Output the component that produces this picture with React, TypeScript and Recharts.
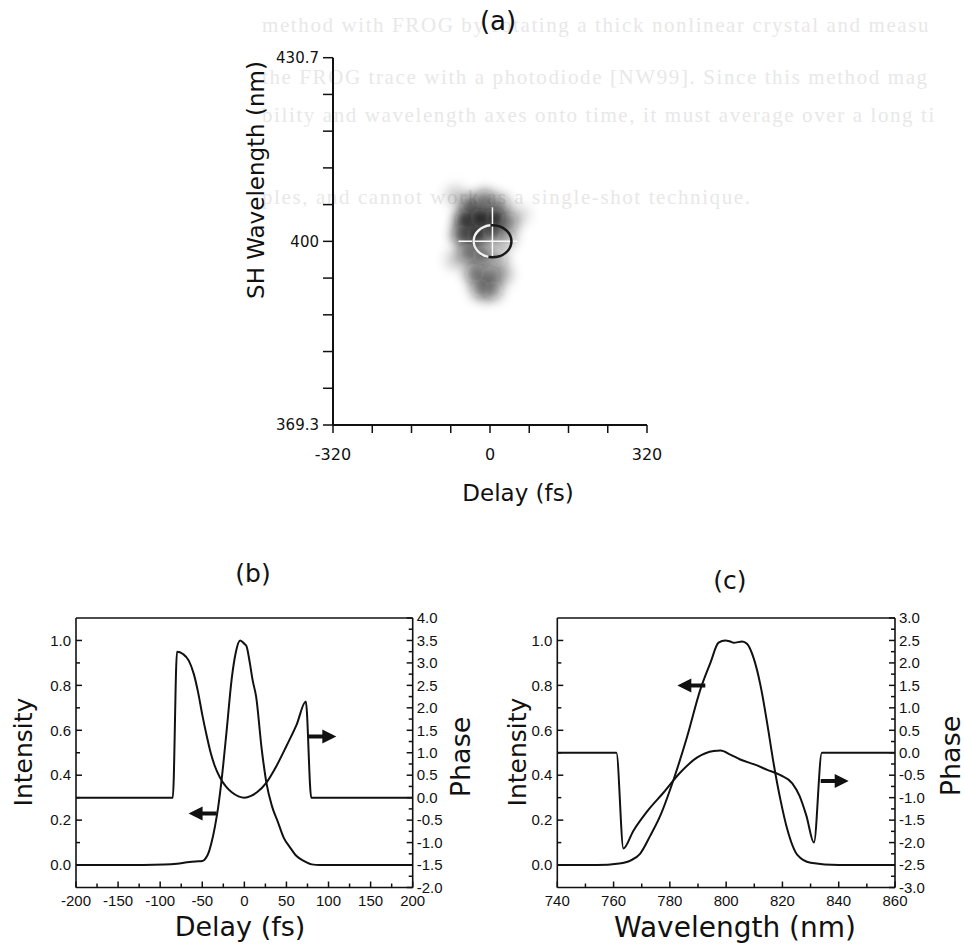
import React from "react";
import {
  ComposedChart,
  Line,
  Scatter,
  XAxis,
  YAxis,
  ReferenceDot,
} from "recharts";

// ---------- (a) FROG trace ----------
const frogDelayTicks = [-320, -240, -160, -80, 0, 80, 160, 240, 320];
const frogDelayLabels = [-320, 0, 320];
const frogWlTicks = [
  369.3, 375.44, 381.58, 387.72, 393.86, 400, 406.14, 412.28, 418.42, 424.56, 430.7,
];
const frogWlLabels = [369.3, 400, 430.7];
// rough intensity samples of the measured trace (delay fs, SH wavelength nm, level 0..1)
const frogSpots = [
  { delay: -41, wl: 406.1, level: 0.65 },
  { delay: -10, wl: 406.9, level: 0.6 },
  { delay: 20, wl: 406.1, level: 0.45 },
  { delay: -51, wl: 403.6, level: 0.9 },
  { delay: -20, wl: 403.9, level: 1.0 },
  { delay: 10, wl: 403.9, level: 0.9 },
  { delay: 37, wl: 403.2, level: 0.5 },
  { delay: -57, wl: 401.1, level: 0.75 },
  { delay: -28, wl: 401.1, level: 0.95 },
  { delay: 4, wl: 401.6, level: 0.75 },
  { delay: 33, wl: 400.6, level: 0.35 },
  { delay: -45, wl: 398.1, level: 0.6 },
  { delay: -16, wl: 397.7, level: 0.65 },
  { delay: 16, wl: 397.2, level: 0.35 },
  { delay: -31, wl: 394.7, level: 0.6 },
  { delay: 0, wl: 394.2, level: 0.55 },
  { delay: 26, wl: 394.5, level: 0.3 },
  { delay: -20, wl: 392.2, level: 0.45 },
  { delay: 6, wl: 391.9, level: 0.4 },
  { delay: -71, wl: 396.9, level: 0.2 },
  { delay: -10, wl: 391.5, level: 0.2 },
  { delay: 61, wl: 404.4, level: 0.15 },
  { delay: -71, wl: 407.7, level: 0.2 },
];
const frogCenter = { delay: 5, wl: 400.0 };

// ---------- (b) temporal intensity and phase ----------
const delayTicks = [
  -200, -175, -150, -125, -100, -75, -50, -25, 0, 25, 50, 75, 100, 125, 150, 175, 200,
];
const delayLabels = [-200, -150, -100, -50, 0, 50, 100, 150, 200];
const intensityTicks = [0, 0.1, 0.2, 0.3, 0.4, 0.5, 0.6, 0.7, 0.8, 0.9, 1.0];
const intensityLabels = [0, 0.2, 0.4, 0.6, 0.8, 1.0];
const phaseBTicks = [
  -2, -1.75, -1.5, -1.25, -1, -0.75, -0.5, -0.25, 0, 0.25, 0.5, 0.75, 1, 1.25, 1.5,
  1.75, 2, 2.25, 2.5, 2.75, 3, 3.25, 3.5, 3.75, 4,
];
const phaseBLabels = [-2, -1.5, -1, -0.5, 0, 0.5, 1, 1.5, 2, 2.5, 3, 3.5, 4];

const pulseIntensity = [
  { x: -200, y: 0 }, { x: -120, y: 0 }, { x: -95, y: 0.002 }, { x: -80, y: 0.006 },
  { x: -68, y: 0.012 }, { x: -58, y: 0.016 }, { x: -50, y: 0.018 }, { x: -46, y: 0.03 },
  { x: -42, y: 0.06 }, { x: -39, y: 0.1 }, { x: -35, y: 0.17 }, { x: -31, y: 0.26 },
  { x: -27, y: 0.38 }, { x: -21, y: 0.6 }, { x: -15, y: 0.83 }, { x: -10, y: 0.95 },
  { x: -5, y: 1.0 }, { x: 0, y: 0.985 }, { x: 2.5, y: 0.975 }, { x: 6.5, y: 0.9 },
  { x: 10, y: 0.82 }, { x: 14, y: 0.75 }, { x: 20.5, y: 0.52 }, { x: 26.5, y: 0.36 },
  { x: 33, y: 0.26 }, { x: 40, y: 0.19 }, { x: 47, y: 0.12 }, { x: 54, y: 0.08 },
  { x: 62, y: 0.04 }, { x: 70, y: 0.02 }, { x: 80, y: 0.003 }, { x: 90, y: 0 },
  { x: 200, y: 0 },
];
const pulsePhase = [
  { x: -200, y: 0 }, { x: -85, y: 0 }, { x: -80, y: 3.25 }, { x: -73, y: 3.2 },
  { x: -66, y: 3.05 }, { x: -60, y: 2.75 }, { x: -55, y: 2.35 }, { x: -50, y: 1.85 },
  { x: -45, y: 1.4 }, { x: -40, y: 1.0 }, { x: -35, y: 0.7 }, { x: -29, y: 0.45 },
  { x: -22, y: 0.25 }, { x: -15, y: 0.12 }, { x: -7, y: 0.03 }, { x: 0, y: 0 },
  { x: 8, y: 0.04 }, { x: 15, y: 0.12 }, { x: 26, y: 0.33 }, { x: 38, y: 0.7 },
  { x: 50, y: 1.15 }, { x: 62, y: 1.62 }, { x: 73, y: 2.14 }, { x: 79.5, y: 0 },
  { x: 200, y: 0 },
];
const arrowsB = [
  { x: -33, y: 0.23, axis: "left", dir: -1 },
  { x: 76, y: 1.36, axis: "right", dir: 1 },
];

// ---------- (c) spectral intensity and phase ----------
const wlTicks = [740, 750, 760, 770, 780, 790, 800, 810, 820, 830, 840, 850, 860];
const wlLabels = [740, 760, 780, 800, 820, 840, 860];
const phaseCTicks = [
  -3, -2.75, -2.5, -2.25, -2, -1.75, -1.5, -1.25, -1, -0.75, -0.5, -0.25, 0, 0.25, 0.5,
  0.75, 1, 1.25, 1.5, 1.75, 2, 2.25, 2.5, 2.75, 3,
];
const phaseCLabels = [-3, -2.5, -2, -1.5, -1, -0.5, 0, 0.5, 1, 1.5, 2, 2.5, 3];

const specIntensity = [
  { x: 740, y: 0 }, { x: 754, y: 0 }, { x: 762, y: 0.007 }, { x: 766, y: 0.02 },
  { x: 769.4, y: 0.05 }, { x: 773, y: 0.13 }, { x: 776.6, y: 0.22 }, { x: 781.3, y: 0.38 },
  { x: 786.1, y: 0.57 }, { x: 790.8, y: 0.78 }, { x: 794.4, y: 0.9 }, { x: 797.3, y: 0.99 },
  { x: 799.7, y: 1.0 }, { x: 801.5, y: 0.995 }, { x: 802.7, y: 0.99 }, { x: 805.7, y: 0.995 },
  { x: 807.4, y: 0.985 }, { x: 809.8, y: 0.92 }, { x: 812.2, y: 0.8 }, { x: 814.6, y: 0.63 },
  { x: 816.9, y: 0.45 }, { x: 819.3, y: 0.29 }, { x: 821.7, y: 0.16 }, { x: 825.3, y: 0.045 },
  { x: 830, y: 0.01 }, { x: 840, y: 0 }, { x: 860, y: 0 },
];
const specPhase = [
  { x: 740, y: 0 }, { x: 761, y: 0 }, { x: 763.5, y: -2.13 }, { x: 767, y: -1.74 },
  { x: 772, y: -1.3 }, { x: 777.7, y: -0.89 }, { x: 783.7, y: -0.44 }, { x: 789.6, y: -0.11 },
  { x: 795.6, y: 0.04 }, { x: 798, y: 0.05 }, { x: 801.5, y: -0.04 }, { x: 805, y: -0.15 },
  { x: 810, y: -0.26 }, { x: 814.6, y: -0.38 }, { x: 819.3, y: -0.5 }, { x: 823.5, y: -0.68 },
  { x: 826, y: -0.95 }, { x: 828.5, y: -1.4 }, { x: 831.2, y: -2.0 }, { x: 834, y: 0 },
  { x: 860, y: 0 },
];
const arrowsC = [
  { x: 792.6, y: 0.8, axis: "left", dir: -1 },
  { x: 833.6, y: -0.63, axis: "right", dir: 1 },
];

// faint text showing through from the other side of the scanned page
const bleedLines = [
  "method with FROG by rotating a thick nonlinear crystal and measu",
  "the FROG trace with a photodiode [NW99]. Since this method mag",
  "bility and wavelength axes onto time, it must average over a long ti",
  "ples, and cannot work as a single-shot technique.",
];
const bleedRows = [32, 84, 122, 204];

const INK = "#111";
const SANS = "'DejaVu Sans', sans-serif";
const ARIAL = "'Liberation Sans', Arial, sans-serif";

const near = (list: number[], v: number) => list.some((l) => Math.abs(l - v) < 1e-6);

// tick mark + optional label, drawn from the axis line
const makeTick =
  (o: {
    side: "left" | "right" | "top" | "bottom";
    labels: number[];
    fmt: (v: number) => string;
    inward: boolean;
    major: number;
    minor: number;
    size: number;
    family: string;
    gap: number;
  }) =>
  (p: any) => {
    const v = p.payload.value as number;
    const lab = near(o.labels, v);
    const len = lab ? o.major : o.minor;
    const s = o.inward ? 1 : -1;
    const out = o.inward ? 0 : len;
    const { x, y } = p;
    let x2 = x,
      y2 = y,
      tx = x,
      ty = y,
      anchor: any = "middle",
      dy = "0.35em";
    if (o.side === "left") {
      x2 = x + s * len;
      tx = x - out - o.gap;
      anchor = "end";
    } else if (o.side === "right") {
      x2 = x - s * len;
      tx = x + out + o.gap;
      anchor = "start";
    } else if (o.side === "bottom") {
      y2 = y - s * len;
      ty = y + out + o.gap;
      dy = "0.75em";
    } else {
      y2 = y + s * len;
    }
    return (
      <g>
        <line x1={x} y1={y} x2={x2} y2={y2} stroke={INK} strokeWidth={1.5} />
        {lab && o.side !== "top" && (
          <text
            x={tx}
            y={ty}
            dy={dy}
            textAnchor={anchor}
            fontSize={o.size}
            fontFamily={o.family}
            fill={INK}
          >
            {o.fmt(v)}
          </text>
        )}
      </g>
    );
  };

const Arrow = ({ cx, cy, dir }: any) => {
  const shaft = 14;
  const head = 14;
  const hx = cx + dir * shaft;
  const tip = cx + dir * (shaft + head);
  const d = `M${cx},${cy - 2} L${hx},${cy - 2} L${hx},${cy - 7} L${tip},${cy} L${hx},${cy + 7} L${hx},${cy + 2} L${cx},${cy + 2} Z`;
  return <path d={d} fill={INK} />;
};

// retrieved-centre marker: white crosshair and a ring
const Crosshair = ({ cx, cy }: any) => (
  <g fill="none">
    <line x1={cx - 34} y1={cy} x2={cx + 25} y2={cy} stroke="#fafafa" strokeWidth={1.5} />
    <line x1={cx} y1={cy - 34} x2={cx} y2={cy + 15} stroke="#fafafa" strokeWidth={1.5} />
    <ellipse cx={cx} cy={cy} rx={19} ry={16} stroke="#1a1a1a" strokeWidth={2.5} />
    <path
      d={`M${cx - 2},${cy - 16} A19,16 0 0,0 ${cx - 4},${cy + 15.5}`}
      stroke="#f0f0f0"
      strokeWidth={2.5}
    />
  </g>
);

const FrogPanel = () => (
  <div style={{ position: "absolute", left: 232, top: 0 }}>
    <ComposedChart
      width={450}
      height={480}
      margin={{ top: 57.7, right: 35, bottom: 15, left: 41 }}
    >
      <XAxis
        type="number"
        dataKey="delay"
        domain={[-320, 320]}
        ticks={frogDelayTicks}
        interval={0}
        height={40}
        tickSize={0}
        tickMargin={0}
        tickLine={false}
        axisLine={{ stroke: INK, strokeWidth: 2 }}
        allowDataOverflow
        tick={makeTick({
          side: "bottom",
          labels: frogDelayLabels,
          fmt: (v) => String(v),
          inward: false,
          major: 8,
          minor: 8,
          size: 16,
          family: SANS,
          gap: 15,
        })}
      />
      <YAxis
        type="number"
        dataKey="wl"
        domain={[369.3, 430.7]}
        ticks={frogWlTicks}
        interval={0}
        width={60}
        tickSize={0}
        tickMargin={0}
        tickLine={false}
        axisLine={{ stroke: INK, strokeWidth: 2 }}
        allowDataOverflow
        tick={makeTick({
          side: "left",
          labels: frogWlTicks,
          fmt: (v) => (near(frogWlLabels, v) ? (v === 400 ? "400" : v.toFixed(1)) : ""),
          inward: false,
          major: 10,
          minor: 10,
          size: 15,
          family: SANS,
          gap: 4,
        })}
      />
      <Scatter
        data={frogSpots}
        isAnimationActive={false}
        shape={(p: any) => (
          <circle
            cx={p.cx}
            cy={p.cy}
            r={10}
            fill="#111"
            fillOpacity={p.payload.level}
            filter="url(#smudge)"
          />
        )}
      />
      <ReferenceDot
        x={frogCenter.delay}
        y={frogCenter.wl}
        r={18}
        shape={(p: any) => <Crosshair cx={p.cx} cy={p.cy} />}
      />
    </ComposedChart>
  </div>
);

const FramePanel = ({
  left,
  width,
  marginLeft,
  marginRight,
  xDomain,
  xTicks,
  xLabels,
  phaseDomain,
  phaseTicks,
  phaseLabels,
  intensity,
  phase,
  arrows,
}: any) => {
  const xTickCfg = {
    labels: xLabels,
    fmt: (v: number) => String(v),
    inward: true,
    major: 6,
    minor: 4,
    size: 15,
    family: ARIAL,
    gap: 7,
  };
  return (
    <div style={{ position: "absolute", left, top: 540 }}>
      <ComposedChart
        width={width}
        height={400}
        margin={{ top: 77, right: marginRight, bottom: 22.5, left: marginLeft }}
      >
        <XAxis
          type="number"
          dataKey="x"
          domain={xDomain}
          ticks={xTicks}
          interval={0}
          height={30}
          tickSize={0}
          tickMargin={0}
          tickLine={false}
          axisLine={{ stroke: INK, strokeWidth: 1.6 }}
          allowDataOverflow
          tick={makeTick({ side: "bottom", ...xTickCfg })}
        />
        <XAxis
          xAxisId="top"
          orientation="top"
          type="number"
          domain={xDomain}
          ticks={xTicks}
          interval={0}
          height={1}
          tickSize={0}
          tickMargin={0}
          tickLine={false}
          axisLine={{ stroke: INK, strokeWidth: 1.6 }}
          allowDataOverflow
          tick={makeTick({ side: "top", ...xTickCfg })}
        />
        <YAxis
          type="number"
          domain={[-0.1, 1.1]}
          ticks={intensityTicks}
          interval={0}
          width={50}
          tickSize={0}
          tickMargin={0}
          tickLine={false}
          axisLine={{ stroke: INK, strokeWidth: 1.6 }}
          allowDataOverflow
          tick={makeTick({
            side: "left",
            labels: intensityLabels,
            fmt: (v) => v.toFixed(1),
            inward: true,
            major: 6,
            minor: 4,
            size: 15,
            family: ARIAL,
            gap: 5,
          })}
        />
        <YAxis
          yAxisId="right"
          orientation="right"
          type="number"
          domain={phaseDomain}
          ticks={phaseTicks}
          interval={0}
          width={50}
          tickSize={0}
          tickMargin={0}
          tickLine={false}
          axisLine={{ stroke: INK, strokeWidth: 1.6 }}
          allowDataOverflow
          tick={makeTick({
            side: "right",
            labels: phaseLabels,
            fmt: (v) => v.toFixed(1),
            inward: true,
            major: 6,
            minor: 4,
            size: 15,
            family: ARIAL,
            gap: 4,
          })}
        />
        <Line
          data={intensity}
          dataKey="y"
          type="monotone"
          stroke={INK}
          strokeWidth={2}
          dot={false}
          isAnimationActive={false}
        />
        <Line
          data={phase}
          dataKey="y"
          yAxisId="right"
          type="monotone"
          stroke={INK}
          strokeWidth={2}
          dot={false}
          isAnimationActive={false}
        />
        {arrows.map((a: any, i: number) => (
          <ReferenceDot
            key={i}
            x={a.x}
            y={a.y}
            yAxisId={a.axis === "right" ? "right" : 0}
            r={1}
            shape={(p: any) => <Arrow cx={p.cx} cy={p.cy} dir={a.dir} />}
          />
        ))}
      </ComposedChart>
    </div>
  );
};

const T = ({ x, y, size, rot, children, family = SANS }: any) => (
  <text
    x={x}
    y={y}
    fontSize={size}
    fontFamily={family}
    textAnchor="middle"
    dominantBaseline="central"
    fill={INK}
    transform={rot ? `rotate(-90 ${x} ${y})` : undefined}
  >
    {children}
  </text>
);

export default function App() {
  return (
    <div
      style={{
        position: "absolute",
        left: 0,
        top: 0,
        width: 964,
        height: 951,
        background: "#fff",
        overflow: "hidden",
      }}
    >
      <svg width={0} height={0} style={{ position: "absolute" }}>
        <defs>
          <filter id="smudge" x="-100%" y="-100%" width="300%" height="300%">
            <feGaussianBlur stdDeviation="6" />
          </filter>
        </defs>
      </svg>
      <svg
        width={964}
        height={951}
        style={{ position: "absolute", left: 0, top: 0 }}
      >
        {bleedLines.map((line, i) => (
          <text
            key={i}
            x={262}
            y={bleedRows[i]}
            fontSize={21}
            letterSpacing={1.6}
            fontFamily="'Liberation Serif', serif"
            fill="#e8e8e8"
          >
            {line}
          </text>
        ))}
      </svg>
      <FrogPanel />
      <FramePanel
        left={0}
        width={480}
        marginLeft={26}
        marginRight={17.3}
        xDomain={[-200, 200]}
        xTicks={delayTicks}
        xLabels={delayLabels}
        phaseDomain={[-2, 4]}
        phaseTicks={phaseBTicks}
        phaseLabels={phaseBLabels}
        intensity={pulseIntensity}
        phase={pulsePhase}
        arrows={arrowsB}
      />
      <FramePanel
        left={480}
        width={484}
        marginLeft={27.3}
        marginRight={19}
        xDomain={[740, 860]}
        xTicks={wlTicks}
        xLabels={wlLabels}
        phaseDomain={[-3, 3]}
        phaseTicks={phaseCTicks}
        phaseLabels={phaseCLabels}
        intensity={specIntensity}
        phase={specPhase}
        arrows={arrowsC}
      />
      <svg
        width={964}
        height={951}
        style={{ position: "absolute", left: 0, top: 0, pointerEvents: "none" }}
      >
        <T x={498} y={21} size={26}>(a)</T>
        <T x={256} y={180} size={23} rot>SH Wavelength (nm)</T>
        <T x={518} y={493} size={23}>Delay (fs)</T>
        <T x={253} y={573} size={25}>(b)</T>
        <T x={730} y={580} size={25}>(c)</T>
        <T x={23} y={752} size={25} rot>Intensity</T>
        <T x={460} y={757} size={27} rot>Phase</T>
        <T x={240} y={926} size={27}>Delay (fs)</T>
        <T x={517} y={752} size={25} rot>Intensity</T>
        <T x={950} y={756} size={27} rot>Phase</T>
        <T x={735} y={927} size={28}>Wavelength (nm)</T>
      </svg>
    </div>
  );
}
